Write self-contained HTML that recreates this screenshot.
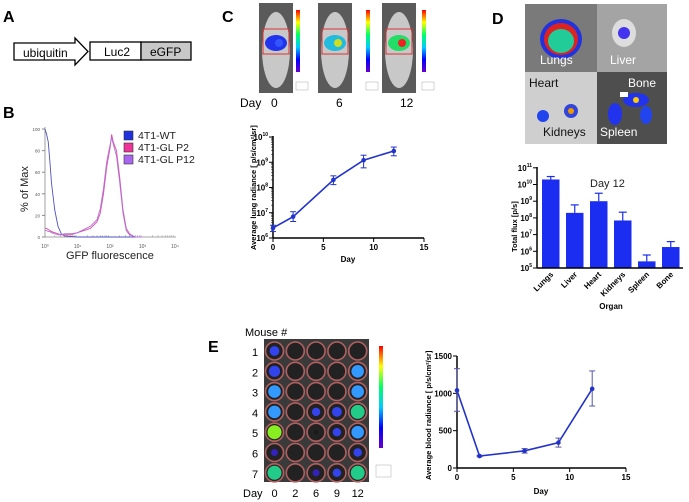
<!DOCTYPE html>
<html><head><meta charset="utf-8"><style>
body{margin:0;background:#fff;}
svg{display:block;font-family:"Liberation Sans",Arial,sans-serif;}
</style></head><body>
<svg width="689" height="502" viewBox="0 0 689 502">
<!-- Panel A -->
<text x="3" y="22" font-size="16" font-weight="bold">A</text>
<g>
<polygon points="14,43 75,43 75,38 88,51.5 75,65 75,60 14,60" fill="#fff" stroke="#000" stroke-width="1.3"/>
<text x="23" y="57" font-size="12">ubiquitin</text>
<rect x="90" y="42" width="51" height="18" fill="#fff" stroke="#000" stroke-width="1.3"/>
<text x="104" y="56" font-size="12">Luc2</text>
<rect x="141" y="42" width="50" height="18" fill="#c8c8c8" stroke="#000" stroke-width="1.3"/>
<text x="150" y="56" font-size="12">eGFP</text>
</g>
<!-- Panel B -->
<text x="3" y="118" font-size="16" font-weight="bold">B</text>
<g id="chartB"></g>
<!-- Panel C -->
<text x="222" y="22" font-size="16" font-weight="bold">C</text>
<g id="mice"></g>
<text x="240" y="107" font-size="12">Day</text>
<text x="271" y="107" font-size="12">0</text>
<text x="336" y="107" font-size="12">6</text>
<text x="400" y="107" font-size="12">12</text>
<g id="chartC"></g>
<!-- Panel D -->
<text x="492" y="24" font-size="16" font-weight="bold">D</text>
<g>
<rect x="525" y="4" width="72" height="68" fill="#7a7a7a"/>
<rect x="597" y="4" width="70" height="68" fill="#a4a4a4"/>
<rect x="525" y="72" width="72" height="72" fill="#cfcfcf"/>
<rect x="597" y="72" width="70" height="72" fill="#4e4e4e"/>
<ellipse cx="561" cy="39" rx="21" ry="20" fill="#2233dd"/><ellipse cx="561" cy="39" rx="17" ry="16" fill="#dd2222"/><ellipse cx="561" cy="41" rx="13" ry="12" fill="#22cc99"/>
<ellipse cx="624" cy="33" rx="12" ry="14" fill="#dddddd"/><circle cx="624" cy="33" r="6" fill="#4433ee"/>
<circle cx="543" cy="116" r="6" fill="#2244ee"/><circle cx="571" cy="111" r="7" fill="#3344dd"/><circle cx="571" cy="111" r="3" fill="#ee9900"/>
<ellipse cx="615" cy="114" rx="7" ry="11" fill="#2233ee"/><ellipse cx="636" cy="100" rx="13" ry="7" fill="#2233ee"/><circle cx="636" cy="100" r="3" fill="#ffcc00"/><ellipse cx="646" cy="115" rx="6" ry="9" fill="#2244ee"/><rect x="620" y="92" width="8" height="5" fill="#fff"/>
<text x="540" y="64" font-size="12" fill="#fff">Lungs</text>
<text x="610" y="64" font-size="12" fill="#fff">Liver</text>
<text x="529" y="87" font-size="12" fill="#111">Heart</text>
<text x="543" y="136" font-size="12" fill="#111">Kidneys</text>
<text x="628" y="87" font-size="12" fill="#fff">Bone</text>
<text x="600" y="136" font-size="12" fill="#fff">Spleen</text>
</g>
<g id="chartD"></g>
<!-- Panel E -->
<text x="208" y="352" font-size="16" font-weight="bold">E</text>
<text x="245" y="336" font-size="11">Mouse #</text>
<g id="plate"></g>
<text x="243" y="497" font-size="11">Day</text>
<g id="chartE"></g>
</svg>
<script>
const NS='http://www.w3.org/2000/svg';
function mk(p,t,a,txt){const e=document.createElementNS(NS,t);for(const k in a)e.setAttribute(k,a[k]);if(txt!==undefined)e.textContent=txt;p.appendChild(e);return e;}
// ---------- data ----------
const histLogX=[0,0.05,0.1,0.15,0.2,0.3,0.4,0.5,0.6,0.8,1.0,1.2,1.4,1.6,1.7,1.8,1.9,2.0,2.05,2.1,2.2,2.3,2.4,2.5,2.6,2.7,2.8,3.0];
const histWT=[100,95,88,70,50,25,10,3,1,0.5,0,0,0,0,0,0,0,0,0,0,0,0,0,0,0,0,0,0];
const histP2=[8,8,7,6,5,4,3,2,2,2,4,6,8,14,22,40,65,82,95,88,80,55,25,8,3,1,0,0];
const histP12=[6,6,5,5,4,3,2,2,3,3,4,7,10,16,26,45,70,85,92,86,75,50,22,6,2,1,0,0];
const bTicksY=[0,20,40,60,80,100];
const bTicksX=['10⁰','10¹','10²','10³','10⁴'];
const cDays=[0,2,6,9,12];
const cMean=[2.5e6,7e6,2e8,1.2e9,2.8e9];
const cLo=[1.8e6,4.5e6,1.3e8,6e8,1.8e9];
const cHi=[3.2e6,1.1e7,2.9e8,1.9e9,4e9];
const dOrgans=['Lungs','Liver','Heart','Kidneys','Spleen','Bone'];
const dMean=[2e10,2e8,1e9,7e7,2.5e5,1.8e6];
const dErr=[3e10,6e8,3e9,2.2e8,6e5,3.8e6];
const eDays=[0,2,6,9,12];
const eMean=[1040,160,230,340,1060];
const eLo=[760,150,200,280,830];
const eHi=[1330,170,260,400,1300];
const plateIntensity=[[0.5,0,0,0,0],[0.6,0,0,0,0.7],[0.7,0,0,0,0.7],[0.7,0,0.4,0.5,0.9],[1,0,0.1,0.4,0.7],[0.3,0,0,0,0.4],[0.9,0,0.3,0.4,0.9]];
// ---------- B ----------
(function(){
const g=document.getElementById('chartB');
const x=v=>45+v*32.5, y=v=>237-v*1.08;
mk(g,'line',{x1:45,y1:127,x2:45,y2:237,stroke:'#888','stroke-width':0.8});
mk(g,'line',{x1:45,y1:237,x2:176,y2:237,stroke:'#888','stroke-width':0.8});
bTicksY.forEach(t=>{mk(g,'line',{x1:42,y1:y(t),x2:45,y2:y(t),stroke:'#888'});mk(g,'text',{x:40,y:y(t)+2,'font-size':4.5,'text-anchor':'end',fill:'#555'},t);});
bTicksX.forEach((t,i)=>mk(g,'text',{x:x(i),y:248,'font-size':5,'text-anchor':'middle',fill:'#555'},t));
for(let i=0;i<4;i++)for(let j=2;j<10;j++){const xx=x(i+Math.log10(j));mk(g,'line',{x1:xx,y1:237,x2:xx,y2:235,stroke:'#999','stroke-width':0.5});}
mk(g,'text',{x:66,y:259,'font-size':11,fill:'#222',},'GFP fluorescence');
mk(g,'text',{transform:'translate(28,212) rotate(-90)','font-size':11,fill:'#222',},'% of Max');
[[histWT,'#5050c0'],[histP2,'#e050a0'],[histP12,'#b070e0']].forEach(([s,c],k)=>{
const p=mk(g,'polyline',{points:histLogX.map((v,i)=>x(v)+','+y(s[i])).join(' '),fill:'none',stroke:c,'stroke-width':0.9});
});
[['4T1-WT','#2030e0'],['4T1-GL P2','#ee3399'],['4T1-GL P12','#aa66ee']].forEach(([t,c],i)=>{
const r=mk(g,'rect',{x:124,y:131+i*12,width:9,height:9,fill:c,stroke:'#333','stroke-width':0.6});

const tx=mk(g,'text',{x:138,y:139+i*12,'font-size':10.5,fill:'#222'},t);
});
})();
// ---------- mice ----------
(function(){
const g=document.getElementById('mice');
const cols=[[259,296],[318,366],[382,422]];
const heat=[['#2233ee','#3355ff'],['#22bbdd','#ccdd22'],['#22dd66','#ee2222']];
cols.forEach(([mx,cb],i)=>{
mk(g,'rect',{x:mx,y:3,width:34,height:90,fill:'#5a5a5a'});
mk(g,'ellipse',{cx:mx+17,cy:50,rx:14,ry:38,fill:'#c8c8c8'});
mk(g,'ellipse',{cx:mx+17,cy:43,rx:11,ry:8,fill:heat[i][0]});
mk(g,'circle',{cx:mx+20,cy:43,r:4,fill:heat[i][1]});
mk(g,'rect',{x:mx+4,y:29,width:26,height:25,fill:'none',stroke:'#dd3333','stroke-width':1});
const gr=mk(g,'linearGradient',{id:'cg'+i,x1:0,y1:0,x2:0,y2:1});
['#ff0000','#ffff00','#00ff66','#00ccff','#0000ff','#6600cc'].forEach((c,k)=>mk(gr,'stop',{offset:k/5,'stop-color':c}));
mk(g,'rect',{x:cb,y:10,width:4,height:62,fill:'url(#cg'+i+')'});
mk(g,'rect',{x:cb,y:82,width:12,height:8,fill:'none',stroke:'#999','stroke-width':0.4});
});
})();
// ---------- C ----------
(function(){
const g=document.getElementById('chartC');
const x=v=>273+v*(151/15), y=v=>238-(Math.log10(v)-6)*25.25;
mk(g,'line',{x1:273,y1:136,x2:273,y2:238,stroke:'#000','stroke-width':1.5});
mk(g,'line',{x1:273,y1:238,x2:424,y2:238,stroke:'#000','stroke-width':1.5});
[6,7,8,9,10].forEach(e=>{const yy=y(Math.pow(10,e));mk(g,'line',{x1:269,y1:yy,x2:273,y2:yy,stroke:'#000'});
const t=mk(g,'text',{x:268,y:yy+3,'font-size':8,'text-anchor':'end','font-weight':'bold'},'10');mk(t,'tspan',{dy:-4,'font-size':5},e);
for(let j=2;j<10&&e<10;j++){const y2=y(j*Math.pow(10,e));mk(g,'line',{x1:271,y1:y2,x2:273,y2:y2,stroke:'#000','stroke-width':0.5});}});
[0,5,10,15].forEach(d=>{mk(g,'line',{x1:x(d),y1:238,x2:x(d),y2:242,stroke:'#000'});mk(g,'text',{x:x(d),y:250,'font-size':8,'text-anchor':'middle','font-weight':'bold'},d);});
mk(g,'text',{x:348,y:262,'font-size':8,'text-anchor':'middle','font-weight':'bold'},'Day');
mk(g,'text',{transform:'translate(256,250) rotate(-90)','font-size':7.5,'font-weight':'bold'},'Average lung radiance [ p/s/cm²/sr]');
const p=mk(g,'polyline',{points:cDays.map((d,i)=>x(d)+','+y(cMean[i])).join(' '),fill:'none',stroke:'#2233cc','stroke-width':1.6});

cDays.forEach((d,i)=>{const xx=x(d);
mk(g,'line',{x1:xx,y1:y(cLo[i]),x2:xx,y2:y(cHi[i]),stroke:'#2233cc'});
mk(g,'line',{x1:xx-3,y1:y(cLo[i]),x2:xx+3,y2:y(cLo[i]),stroke:'#2233cc'});
mk(g,'line',{x1:xx-3,y1:y(cHi[i]),x2:xx+3,y2:y(cHi[i]),stroke:'#2233cc'});
const c=mk(g,'circle',{cx:xx,cy:y(cMean[i]),r:2.3,fill:'#2233cc'});
});
})();
// ---------- D ----------
(function(){
const g=document.getElementById('chartD');
const y=v=>268-(Math.log10(v)-5)*16.7, bw=17.5, x0=539, step=24;
mk(g,'text',{x:590,y:187,'font-size':11,fill:'#222'},'Day 12');
dOrgans.forEach((o,i)=>{const xx=x0+i*step+3;
const r=mk(g,'rect',{x:xx,y:y(dMean[i]),width:bw,height:268-y(dMean[i]),fill:'#1a2df0'});

const cx=xx+bw/2;mk(g,'line',{x1:cx,y1:y(dMean[i]),x2:cx,y2:y(dErr[i]),stroke:'#1a2df0','stroke-width':1.2});
mk(g,'line',{x1:cx-4,y1:y(dErr[i]),x2:cx+4,y2:y(dErr[i]),stroke:'#1a2df0','stroke-width':1.2});
mk(g,'text',{transform:'translate('+(cx+3)+',275) rotate(-45)','font-size':8,'text-anchor':'end','font-weight':'bold'},o);});
mk(g,'line',{x1:537,y1:167,x2:537,y2:268,stroke:'#000','stroke-width':1.5});
mk(g,'line',{x1:537,y1:268,x2:683,y2:268,stroke:'#000','stroke-width':1.5});
[5,6,7,8,9,10,11].forEach(e=>{const yy=y(Math.pow(10,e));mk(g,'line',{x1:533,y1:yy,x2:537,y2:yy,stroke:'#000'});
const t=mk(g,'text',{x:532,y:yy+3,'font-size':8,'text-anchor':'end','font-weight':'bold'},'10');mk(t,'tspan',{dy:-4,'font-size':5},e);});
mk(g,'text',{x:611,y:309,'font-size':8,'text-anchor':'middle','font-weight':'bold'},'Organ');
mk(g,'text',{transform:'translate(517,252) rotate(-90)','font-size':7.5,'font-weight':'bold'},'Total flux [p/s]');
})();
// ---------- plate ----------
(function(){
const g=document.getElementById('plate');
mk(g,'rect',{x:264,y:339,width:105,height:143,fill:'#3a3a3a'});
const col=v=>v>0.95?'#88ee22':v>0.8?'#22cc88':v>0.6?'#3399ff':v>0.35?'#3344ee':v>0.2?'#3322bb':'#1a1a1a';
plateIntensity.forEach((row,r)=>{
mk(g,'text',{x:252,y:356+r*20.3,'font-size':11},r+1);
row.forEach((v,c)=>{const cx=274.5+c*20.8, cy=351+r*20.3;
mk(g,'circle',{cx:cx,cy:cy,r:9,fill:'#222',stroke:'#b06060','stroke-width':1.6});
if(v>0.05)mk(g,'circle',{cx:cx,cy:cy,r:7*Math.min(1,v+0.2),fill:col(v)});});});
['0','2','6','9','12'].forEach((d,c)=>mk(g,'text',{x:274.5+c*20.8,y:497,'font-size':11,'text-anchor':'middle'},d));
const gr=mk(g,'linearGradient',{id:'pg',x1:0,y1:0,x2:0,y2:1});
['#ff0000','#ffff00','#00ff66','#00ccff','#0000ff','#6600cc'].forEach((c,k)=>mk(gr,'stop',{offset:k/5,'stop-color':c}));
mk(g,'rect',{x:379,y:346,width:4,height:102,fill:'url(#pg)'});
mk(g,'rect',{x:376,y:465,width:15,height:12,fill:'none',stroke:'#999','stroke-width':0.4});
})();
// ---------- E ----------
(function(){
const g=document.getElementById('chartE');
const x=v=>457+v*(169/15), y=v=>468-v*(112/1500);
mk(g,'line',{x1:457,y1:356,x2:457,y2:468,stroke:'#000','stroke-width':1.5});
mk(g,'line',{x1:457,y1:468,x2:626,y2:468,stroke:'#000','stroke-width':1.5});
[0,500,1000,1500].forEach(t=>{mk(g,'line',{x1:453,y1:y(t),x2:457,y2:y(t),stroke:'#000'});mk(g,'text',{x:452,y:y(t)+3,'font-size':8,'text-anchor':'end','font-weight':'bold'},t);});
[0,5,10,15].forEach(d=>{mk(g,'line',{x1:x(d),y1:468,x2:x(d),y2:472,stroke:'#000'});mk(g,'text',{x:x(d),y:480,'font-size':8,'text-anchor':'middle','font-weight':'bold'},d);});
mk(g,'text',{x:541,y:494,'font-size':8,'text-anchor':'middle','font-weight':'bold'},'Day');
mk(g,'text',{transform:'translate(431,480) rotate(-90)','font-size':7.5,'font-weight':'bold'},'Average blood radiance [ p/s/cm²/sr]');
const p=mk(g,'polyline',{points:eDays.map((d,i)=>x(d)+','+y(eMean[i])).join(' '),fill:'none',stroke:'#2233cc','stroke-width':1.6});

eDays.forEach((d,i)=>{const xx=x(d);
mk(g,'line',{x1:xx,y1:y(eLo[i]),x2:xx,y2:y(eHi[i]),stroke:'#5555aa'});
mk(g,'line',{x1:xx-3,y1:y(eLo[i]),x2:xx+3,y2:y(eLo[i]),stroke:'#5555aa'});
mk(g,'line',{x1:xx-3,y1:y(eHi[i]),x2:xx+3,y2:y(eHi[i]),stroke:'#5555aa'});
const c=mk(g,'circle',{cx:xx,cy:y(eMean[i]),r:2.3,fill:'#2233cc'});
});
})();
</script>
</body></html>
